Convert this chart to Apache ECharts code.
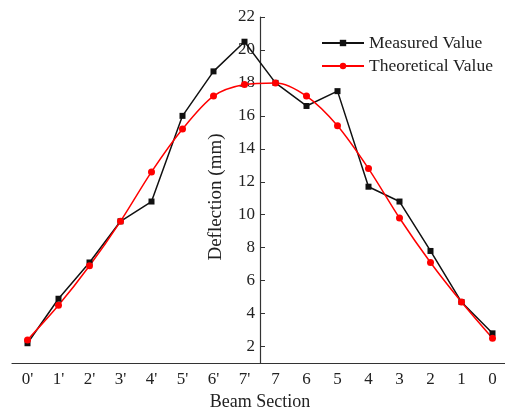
<!DOCTYPE html>
<html>
<head>
<meta charset="utf-8">
<script src="https://cdn.jsdelivr.net/npm/echarts@6/dist/echarts.min.js"></script>
<style>
  html, body { margin: 0; padding: 0; background: #fff; }
  #chart { width: 505px; height: 410px; }
</style>
</head>
<body>
<div id="chart"></div>
<script>
// Beam sections along the span, from one support through mid-span to the other
const sections = ["0'", "1'", "2'", "3'", "4'", "5'", "6'", "7'", "7", "6", "5", "4", "3", "2", "1", "0"];
// Deflection (mm) at each section
const measured    = [2.2, 4.9, 7.1, 9.6, 10.8, 16.0, 18.7, 20.5, 18.0, 16.6, 17.5, 11.7, 10.8, 7.8, 4.7, 2.8];
const theoretical = [2.4, 4.5, 6.9, 9.6, 12.6, 15.2, 17.2, 17.9, 18.0, 17.2, 15.4, 12.8, 9.8, 7.1, 4.7, 2.5];
// Labelled ticks on the deflection axis
const yTicks = [2, 4, 6, 8, 10, 12, 14, 16, 18, 20, 22];

const FONT = "'Liberation Serif', 'DejaVu Serif', serif";
const AXIS = '#333';
const TEXT = '#222';

const chart = echarts.init(document.getElementById('chart'), null, { renderer: 'canvas' });

const gridLeft = 12;
const gridWidth = 496;

chart.setOption({
  animation: false,
  backgroundColor: '#fff',
  grid: {
    left: gridLeft, top: 17, width: gridWidth, height: 346,
    containLabel: false,
    outerBoundsMode: 'none'
  },
  legend: {
    orient: 'vertical',
    left: 316,
    top: 29,
    itemWidth: 42,
    itemHeight: 8,
    itemGap: 5,
    textStyle: { fontFamily: FONT, fontSize: 17.5, color: TEXT },
    data: ['Measured Value', 'Theoretical Value']
  },
  xAxis: {
    type: 'category',
    data: sections,
    boundaryGap: true,
    name: 'Beam Section',
    nameLocation: 'middle',
    nameGap: 30,
    nameTextStyle: { fontFamily: FONT, fontSize: 18, color: TEXT, verticalAlign: 'top' },
    axisLine: { lineStyle: { color: AXIS, width: 1.2 } },
    axisTick: { inside: true, length: 5, alignWithLabel: true, lineStyle: { color: AXIS } },
    axisLabel: { fontFamily: FONT, fontSize: 17, color: TEXT, margin: 8, interval: 0 },
    splitLine: { show: false }
  },
  yAxis: {
    type: 'value',
    min: 1,
    max: 22,
    position: 'left',
    offset: -gridWidth / 2,
    name: 'Deflection (mm)',
    nameLocation: 'middle',
    nameGap: 34,
    nameRotate: 90,
    nameTextStyle: { fontFamily: FONT, fontSize: 19, color: TEXT, padding: [0, 14, 0, 0] },
    axisLine: { show: true, lineStyle: { color: AXIS, width: 1.2 } },
    axisTick: { show: true, inside: true, length: 5, customValues: yTicks, lineStyle: { color: AXIS } },
    axisLabel: { fontFamily: FONT, fontSize: 17, color: TEXT, margin: 5, customValues: yTicks },
    splitLine: { show: false }
  },
  series: [
    {
      name: 'Measured Value',
      type: 'line',
      data: measured,
      symbol: 'rect',
      symbolSize: 6,
      color: '#111',
      lineStyle: { color: '#111', width: 1.5 },
      itemStyle: { color: '#111' }
    },
    {
      name: 'Theoretical Value',
      type: 'line',
      data: theoretical,
      smooth: 0.3,
      symbol: 'circle',
      symbolSize: 7,
      color: '#ff0000',
      lineStyle: { color: '#ff0000', width: 1.5 },
      itemStyle: { color: '#ff0000' }
    }
  ]
});
</script>
</body>
</html>
